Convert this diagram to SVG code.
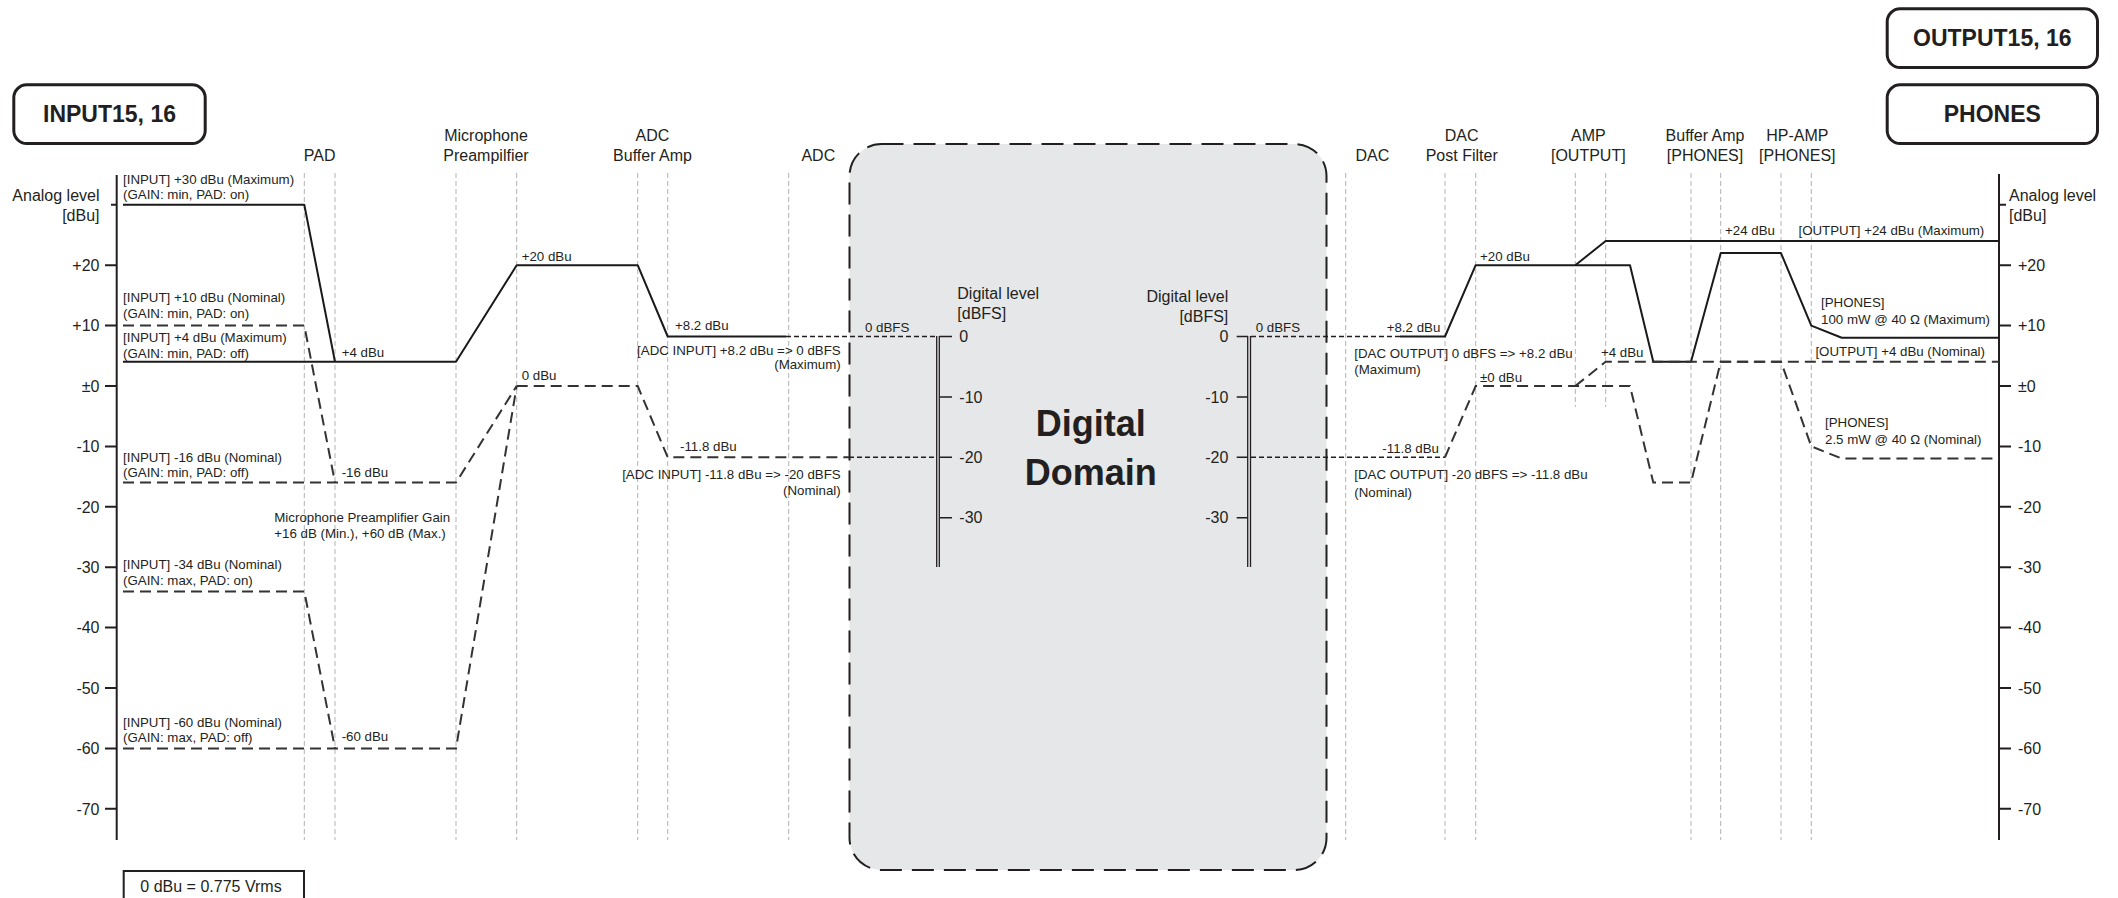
<svg xmlns="http://www.w3.org/2000/svg" width="2118" height="898" viewBox="0 0 2118 898">
<style>
text{font-family:"Liberation Sans",Arial,sans-serif;fill:#231f20}
.s{font-size:13.3px}
.m{font-size:16px}
.b{font-weight:bold}
.c{text-anchor:middle}
.r{text-anchor:end}
.guide{stroke:#b3b3b3;stroke-width:1;stroke-dasharray:5 3;fill:none}
.axis{stroke:#231f20;stroke-width:2;fill:none}
.sol{stroke:#1a1a1a;stroke-width:2;fill:none;stroke-linejoin:round}
.dsh{stroke:#333;stroke-width:2;fill:none;stroke-dasharray:11 6}
.fin{stroke:#231f20;stroke-width:1.5;fill:none;stroke-dasharray:5 3}
.box{fill:#fff;stroke:#231f20;stroke-width:3}
</style>

<g id="digital-domain">
<rect x="849.5" y="144" width="477" height="726" rx="32" fill="#e6e7e8" stroke="#231f20" stroke-width="2" stroke-dasharray="22 10"/>
<text class="b c" x="1090.7" y="436" font-size="36">Digital</text>
<text class="b c" x="1090.7" y="485" font-size="36">Domain</text>
</g>

<g id="guides">
<line class="guide" x1="304.3" y1="173" x2="304.3" y2="840"/>
<line class="guide" x1="335" y1="173" x2="335" y2="840"/>
<line class="guide" x1="456" y1="173" x2="456" y2="840"/>
<line class="guide" x1="516.7" y1="173" x2="516.7" y2="840"/>
<line class="guide" x1="637.7" y1="173" x2="637.7" y2="840"/>
<line class="guide" x1="667.7" y1="173" x2="667.7" y2="840"/>
<line class="guide" x1="788.7" y1="173" x2="788.7" y2="840"/>
<line class="guide" x1="1345.7" y1="173" x2="1345.7" y2="840"/>
<line class="guide" x1="1445" y1="173" x2="1445" y2="840"/>
<line class="guide" x1="1475.7" y1="173" x2="1475.7" y2="840"/>
<line class="guide" x1="1575.3" y1="173" x2="1575.3" y2="407"/>
<line class="guide" x1="1605.7" y1="173" x2="1605.7" y2="407"/>
<line class="guide" x1="1691" y1="173" x2="1691" y2="840"/>
<line class="guide" x1="1720.7" y1="173" x2="1720.7" y2="840"/>
<line class="guide" x1="1781" y1="173" x2="1781" y2="840"/>
<line class="guide" x1="1811.3" y1="173" x2="1811.3" y2="840"/>
</g>

<g id="stage-labels">
<text class="m c" x="319.6" y="161">PAD</text>
<text class="m c" x="486" y="141">Microphone</text>
<text class="m c" x="486" y="161">Preampilfier</text>
<text class="m c" x="652.5" y="141">ADC</text>
<text class="m c" x="652.5" y="161">Buffer Amp</text>
<text class="m c" x="818.3" y="161">ADC</text>
<text class="m c" x="1372.3" y="161">DAC</text>
<text class="m c" x="1461.7" y="141">DAC</text>
<text class="m c" x="1461.7" y="161">Post Filter</text>
<text class="m c" x="1588.3" y="141">AMP</text>
<text class="m c" x="1588.3" y="161">[OUTPUT]</text>
<text class="m c" x="1705" y="141">Buffer Amp</text>
<text class="m c" x="1705" y="161">[PHONES]</text>
<text class="m c" x="1797.3" y="141">HP-AMP</text>
<text class="m c" x="1797.3" y="161">[PHONES]</text>
</g>

<g id="input-box">
<rect class="box" x="13.8" y="84.8" width="191.4" height="58.7" rx="13"/>
<text class="b c" x="109.5" y="121.5" font-size="23">INPUT15, 16</text>
</g>
<g id="output-box">
<rect class="box" x="1887.2" y="8.8" width="210.3" height="58.7" rx="13"/>
<text class="b c" x="1992.3" y="45.5" font-size="23">OUTPUT15, 16</text>
</g>
<g id="phones-box">
<rect class="box" x="1887.2" y="84.8" width="210.3" height="58.7" rx="13"/>
<text class="b c" x="1992.3" y="121.5" font-size="23">PHONES</text>
</g>

<g id="left-axis">
<line class="axis" x1="116.7" y1="175" x2="116.7" y2="840"/>
<path class="axis" d="M111 204.8H117 M105 265.2H117 M105 325.6H117 M105 386H117 M105 446.4H117 M105 506.8H117 M105 567.2H117 M105 627.6H117 M105 688H117 M105 748.4H117 M105 808.8H117" stroke-width="1.5"/>
<text class="m r" x="99.5" y="200.5">Analog level</text>
<text class="m r" x="99.5" y="221">[dBu]</text>
<text class="m r" x="99.5" y="271">+20</text>
<text class="m r" x="99.5" y="331.3">+10</text>
<text class="m r" x="99.5" y="391.7">±0</text>
<text class="m r" x="99.5" y="452">-10</text>
<text class="m r" x="99.5" y="512.5">-20</text>
<text class="m r" x="99.5" y="573">-30</text>
<text class="m r" x="99.5" y="633.3">-40</text>
<text class="m r" x="99.5" y="693.7">-50</text>
<text class="m r" x="99.5" y="754.1">-60</text>
<text class="m r" x="99.5" y="814.5">-70</text>
</g>

<g id="right-axis">
<line class="axis" x1="1999" y1="174" x2="1999" y2="840"/>
<path class="axis" d="M1999 204.8H2006 M1999 265.2H2011 M1999 325.6H2011 M1999 386H2011 M1999 446.4H2011 M1999 506.8H2011 M1999 567.2H2011 M1999 627.6H2011 M1999 688H2011 M1999 748.4H2011 M1999 808.8H2011" stroke-width="1.5"/>
<text class="m" x="2009" y="200.5">Analog level</text>
<text class="m" x="2009" y="221">[dBu]</text>
<text class="m" x="2018" y="271">+20</text>
<text class="m" x="2018" y="331.3">+10</text>
<text class="m" x="2018" y="391.7">±0</text>
<text class="m" x="2018" y="452">-10</text>
<text class="m" x="2018" y="512.5">-20</text>
<text class="m" x="2018" y="573">-30</text>
<text class="m" x="2018" y="633.3">-40</text>
<text class="m" x="2018" y="693.7">-50</text>
<text class="m" x="2018" y="754.1">-60</text>
<text class="m" x="2018" y="814.5">-70</text>
</g>

<g id="digital-scale-adc">
<path d="M936.7 336V567 M939.3 336V567" stroke="#231f20" stroke-width="1.3" fill="none"/>
<path d="M939.3 336.5H952 M940 396.9H952 M940 457.3H952 M940 517.7H952" stroke="#231f20" stroke-width="1.5" fill="none"/>
<text class="m" x="957.3" y="299">Digital level</text>
<text class="m" x="957.3" y="319">[dBFS]</text>
<text class="m" x="959.3" y="342.3">0</text>
<text class="m" x="959.3" y="402.6">-10</text>
<text class="m" x="959.3" y="463">-20</text>
<text class="m" x="959.3" y="523.4">-30</text>
</g>

<g id="digital-scale-dac">
<path d="M1247.7 336V567 M1250.5 336V567" stroke="#231f20" stroke-width="1.3" fill="none"/>
<path d="M1236.7 336.5H1248 M1236.7 396.9H1248 M1236.7 457.3H1248 M1236.7 517.7H1248" stroke="#231f20" stroke-width="1.5" fill="none"/>
<text class="m r" x="1228.3" y="301.5">Digital level</text>
<text class="m r" x="1228.3" y="321.5">[dBFS]</text>
<text class="m r" x="1228.3" y="342.3">0</text>
<text class="m r" x="1228.3" y="402.6">-10</text>
<text class="m r" x="1228.3" y="463">-20</text>
<text class="m r" x="1228.3" y="523.4">-30</text>
</g>

<g id="connectors">
<!-- input side, maximum (solid) -->
<path class="sol" d="M123 204.8H304.3L335 361.8"/>
<path class="sol" d="M123 361.8H456L516.7 265.2H637.7L667.7 336.5H786"/>
<!-- input side, nominal (dashed) -->
<path class="dsh" d="M123 325.6H304.3L335 482.6"/>
<path class="dsh" d="M123 482.6H456L516.7 386"/>
<path class="dsh" d="M123 591.4H304.3L335 748.4"/>
<path class="dsh" d="M123 748.4H456L516.7 386"/>
<path class="dsh" d="M516.7 386H637.7L667.7 457.3H849"/>
<!-- digital links -->
<path class="fin" d="M786 336.5H936"/>
<path class="fin" d="M849 457.3H936"/>
<path class="fin" d="M1251 336.5H1402"/>
<path class="fin" d="M1251 457.3H1445"/>
<!-- output side, maximum (solid) -->
<path class="sol" d="M1400 336.5H1445L1475.7 265.2H1630L1653.3 361.8H1691L1720.7 253.1H1781L1811.3 325.6L1841.7 337.7H1999"/>
<path class="sol" d="M1575.3 265.2L1605.7 241H1999"/>
<!-- output side, nominal (dashed) -->
<path class="dsh" d="M1445 457.3L1475.7 386H1630L1653.3 482.6H1691L1720.7 361.8H1781L1811.3 446.4L1841.7 458.5H1999"/>
<path class="dsh" d="M1575.3 386L1605.7 361.8H1999"/>
</g>

<g id="input-labels">
<text class="s" x="123" y="184">[INPUT] +30 dBu (Maximum)</text>
<text class="s" x="123" y="199">(GAIN: min, PAD: on)</text>
<text class="s" x="123" y="302">[INPUT] +10 dBu (Nominal)</text>
<text class="s" x="123" y="318">(GAIN: min, PAD: on)</text>
<text class="s" x="123" y="342">[INPUT] +4 dBu (Maximum)</text>
<text class="s" x="123" y="358">(GAIN: min, PAD: off)</text>
<text class="s" x="123" y="461.5">[INPUT] -16 dBu (Nominal)</text>
<text class="s" x="123" y="476.5">(GAIN: min, PAD: off)</text>
<text class="s" x="123" y="569">[INPUT] -34 dBu (Nominal)</text>
<text class="s" x="123" y="585">(GAIN: max, PAD: on)</text>
<text class="s" x="123" y="726.5">[INPUT] -60 dBu (Nominal)</text>
<text class="s" x="123" y="742">(GAIN: max, PAD: off)</text>
<text class="s" x="341.7" y="356.5">+4 dBu</text>
<text class="s" x="341.7" y="477">-16 dBu</text>
<text class="s" x="341.7" y="740.5">-60 dBu</text>
<text class="s" x="274.3" y="522">Microphone Preamplifier Gain</text>
<text class="s" x="274.3" y="538">+16 dB (Min.), +60 dB (Max.)</text>
<text class="s" x="521.7" y="261">+20 dBu</text>
<text class="s" x="521.7" y="380">0 dBu</text>
<text class="s" x="675" y="330">+8.2 dBu</text>
<text class="s" x="680" y="451">-11.8 dBu</text>
<text class="s r" x="840.7" y="355">[ADC INPUT] +8.2 dBu =&gt; 0 dBFS</text>
<text class="s r" x="840.7" y="368.5">(Maximum)</text>
<text class="s r" x="840.7" y="479">[ADC INPUT] -11.8 dBu =&gt; -20 dBFS</text>
<text class="s r" x="840.7" y="495">(Nominal)</text>
<text class="s" x="865" y="332">0 dBFS</text>
</g>

<g id="output-labels">
<text class="s" x="1255.7" y="331.5">0 dBFS</text>
<text class="s" x="1386.7" y="331.5">+8.2 dBu</text>
<text class="s" x="1354.3" y="358">[DAC OUTPUT] 0 dBFS =&gt; +8.2 dBu</text>
<text class="s" x="1354.3" y="374">(Maximum)</text>
<text class="s" x="1480" y="260.5">+20 dBu</text>
<text class="s" x="1480" y="381.5">±0 dBu</text>
<text class="s" x="1601" y="357">+4 dBu</text>
<text class="s" x="1382.3" y="452.5">-11.8 dBu</text>
<text class="s" x="1354.3" y="479">[DAC OUTPUT] -20 dBFS =&gt; -11.8 dBu</text>
<text class="s" x="1354.3" y="496.5">(Nominal)</text>
<text class="s" x="1725" y="235">+24 dBu</text>
<text class="s r" x="1984.3" y="235">[OUTPUT] +24 dBu (Maximum)</text>
<text class="s" x="1821" y="307">[PHONES]</text>
<text class="s" x="1821" y="324">100 mW @ 40 Ω (Maximum)</text>
<text class="s r" x="1985" y="355.5">[OUTPUT] +4 dBu (Nominal)</text>
<text class="s" x="1825" y="427">[PHONES]</text>
<text class="s" x="1825" y="444">2.5 mW @ 40 Ω (Nominal)</text>
</g>

<g id="reference-note">
<rect x="123.7" y="871" width="180.3" height="40" fill="#fff" stroke="#231f20" stroke-width="2"/>
<text class="m c" x="211" y="891.5">0 dBu = 0.775 Vrms</text>
</g>
</svg>
